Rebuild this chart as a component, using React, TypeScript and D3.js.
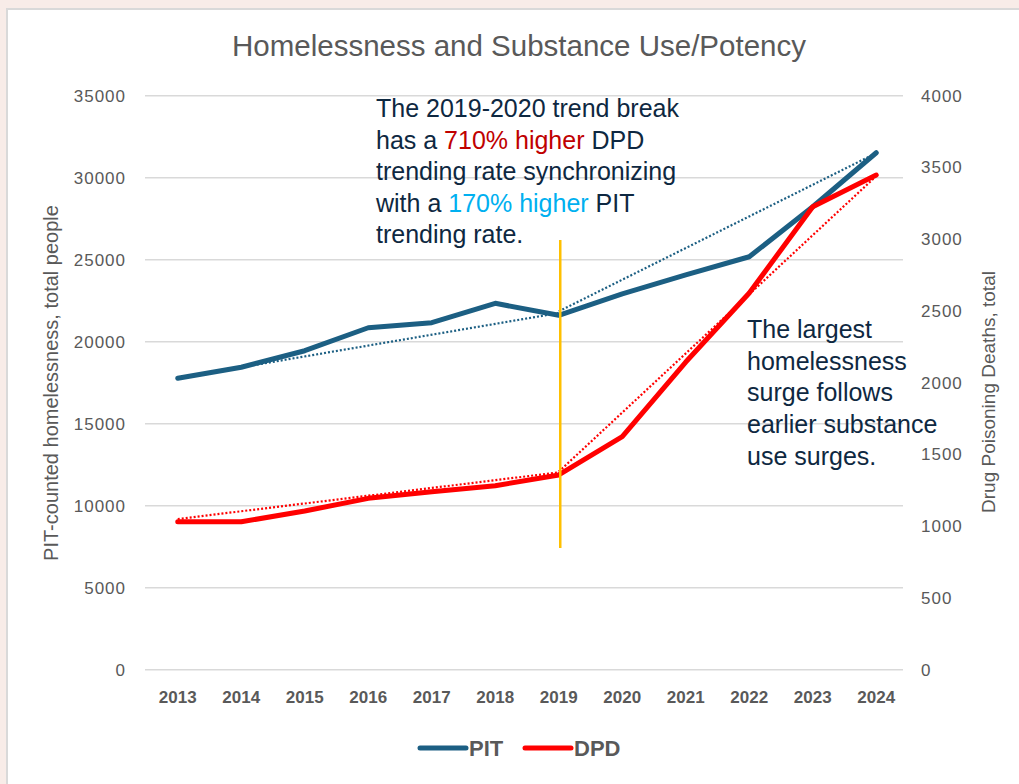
import React from "react";
import * as d3 from "d3";

const years = [2013, 2014, 2015, 2016, 2017, 2018, 2019, 2020, 2021, 2022, 2023, 2024];
const pitValues = [17770, 18440, 19450, 20850, 21160, 22340, 21610, 22910, 24070, 25180, 28230, 31520];
const dpdValues = [1031, 1031, 1106, 1194, 1240, 1282, 1357, 1624, 2144, 2625, 3226, 3447];
const leftTicks = [0, 5000, 10000, 15000, 20000, 25000, 30000, 35000];
const rightTicks = [0, 500, 1000, 1500, 2000, 2500, 3000, 3500, 4000];
// trendline endpoints [year, value]
const pitTrendPre: [number, number][] = [[2014, 18440], [2019, 21750]];
const pitTrendPost: [number, number][] = [[2019, 21850], [2024, 31500]];
const dpdTrendPre: [number, number][] = [[2013, 1050], [2019, 1375]];
const dpdTrendPost: [number, number][] = [[2019, 1380], [2024, 3440]];
const breakYear = 2019;
const breakRange = [7420, 26200];

const title = "Homelessness and Substance Use/Potency";
const leftTitle = "PIT-counted homelessness, total people";
const rightTitle = "Drug Poisoning Deaths, total";

const PIT_COLOR = "#1c5f83";
const DPD_COLOR = "#ff0000";
const TEXT_DARK = "#0e2841";
const GREY = "#595959";

export default function App() {
  const x = d3.scalePoint<number>().domain(years).range([146, 908]).padding(0.5);
  const yL = d3.scaleLinear().domain([0, 35000]).range([669.7, 95.7]);
  const yR = d3.scaleLinear().domain([0, 4000]).range([669.7, 95.7]);

  const pitLine = d3.line<number>().x((_, i) => x(years[i])!).y((d) => yL(d));
  const dpdLine = d3.line<number>().x((_, i) => x(years[i])!).y((d) => yR(d));
  const trendL = d3.line<[number, number]>().x((d) => x(d[0])!).y((d) => yL(d[1]));
  const trendR = d3.line<[number, number]>().x((d) => x(d[0])!).y((d) => yR(d[1]));

  const font = "'Liberation Sans', Arial, sans-serif";

  return (
    <svg width={1019} height={784} style={{ position: "absolute", left: 0, top: 0 }} fontFamily={font}>
      <rect x={0} y={0} width={1019} height={784} fill="#f8ece8" />
      <rect x={7} y={9} width={1030} height={800} fill="#ffffff" stroke="#d9d9d9" strokeWidth={2} />

      <text x={519} y={56} textAnchor="middle" fontSize={29.5} fill={GREY}>{title}</text>

      {leftTicks.map((t) => (
        <g key={"l" + t}>
          <line x1={145} x2={903} y1={yL(t)} y2={yL(t)} stroke="#d9d9d9" strokeWidth={1.5} />
          <text x={126} y={yL(t)} dy="0.35em" textAnchor="end" fontSize={17} letterSpacing={1} fill={GREY}>{t}</text>
        </g>
      ))}
      {rightTicks.map((t) => (
        <text key={"r" + t} x={921} y={yR(t)} dy="0.35em" textAnchor="start" fontSize={17} letterSpacing={1} fill={GREY}>{t}</text>
      ))}

      {years.map((yr) => (
        <text key={yr} x={x(yr)} y={703} textAnchor="middle" fontSize={17} fontWeight="bold" fill={GREY}>{yr}</text>
      ))}

      <text transform={`translate(58,383) rotate(-90)`} textAnchor="middle" fontSize={20} fill={GREY}>{leftTitle}</text>
      <text transform={`translate(995,392) rotate(-90)`} textAnchor="middle" fontSize={19} fill={GREY}>{rightTitle}</text>

      <path d={trendL(pitTrendPre)!} fill="none" stroke={PIT_COLOR} strokeWidth={2.2} strokeDasharray="2 2" />
      <path d={trendL(pitTrendPost)!} fill="none" stroke={PIT_COLOR} strokeWidth={2.2} strokeDasharray="2 2" />
      <path d={trendR(dpdTrendPre)!} fill="none" stroke={DPD_COLOR} strokeWidth={2.2} strokeDasharray="2 2" />
      <path d={trendR(dpdTrendPost)!} fill="none" stroke={DPD_COLOR} strokeWidth={2.2} strokeDasharray="2 2" />

      <path d={pitLine(pitValues)!} fill="none" stroke={PIT_COLOR} strokeWidth={5} strokeLinejoin="round" strokeLinecap="round" />
      <path d={dpdLine(dpdValues)!} fill="none" stroke={DPD_COLOR} strokeWidth={5} strokeLinejoin="round" strokeLinecap="round" />

      <line x1={x(breakYear)! + 1.5} x2={x(breakYear)! + 1.5} y1={yL(breakRange[0])} y2={yL(breakRange[1])} stroke="#ffc000" strokeWidth={2.5} />

      <text fontSize={25} fill={TEXT_DARK}>
        <tspan x={376} y={117}>The 2019-2020 trend break</tspan>
        <tspan x={376} y={148.5}>has a <tspan fill="#c00000">710% higher</tspan> DPD</tspan>
        <tspan x={376} y={180}>trending rate synchronizing</tspan>
        <tspan x={376} y={211.5}>with a <tspan fill="#00b0f0">170% higher</tspan> PIT</tspan>
        <tspan x={376} y={243}>trending rate.</tspan>
      </text>

      <text fontSize={25} fill={TEXT_DARK}>
        <tspan x={747} y={338}>The largest</tspan>
        <tspan x={747} y={369.7}>homelessness</tspan>
        <tspan x={747} y={401.4}>surge follows</tspan>
        <tspan x={747} y={433.1}>earlier substance</tspan>
        <tspan x={747} y={464.8}>use surges.</tspan>
      </text>

      <line x1={420} x2={466} y1={748} y2={748} stroke={PIT_COLOR} strokeWidth={5} strokeLinecap="round" />
      <text x={469} y={748} dy="0.35em" fontSize={22} fontWeight="bold" fill={GREY}>PIT</text>
      <line x1={525} x2={571} y1={748} y2={748} stroke={DPD_COLOR} strokeWidth={5} strokeLinecap="round" />
      <text x={574} y={748} dy="0.35em" fontSize={22} fontWeight="bold" fill={GREY}>DPD</text>
    </svg>
  );
}
